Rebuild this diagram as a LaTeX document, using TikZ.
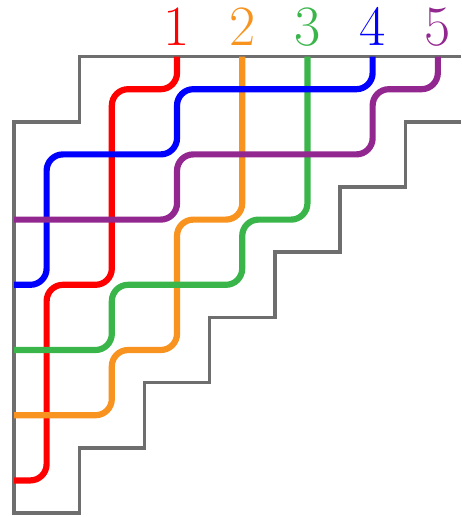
\documentclass[tikz,border=0pt]{standalone}
\usepackage{xcolor}
\usepackage{tikz}
\usetikzlibrary{positioning}
\definecolor{PipeRed}{HTML}{FF0000}
\definecolor{PipeOrange}{HTML}{F7931E}
\definecolor{PipeGreen}{HTML}{39B54A}
\definecolor{PipeBlue}{HTML}{0000FF}
\definecolor{PipePurple}{HTML}{92278F}
\definecolor{FrameGray}{HTML}{6E6E6E}
\begin{document}
\begin{tikzpicture}[x=1cm,y=1cm,
    frame/.style={draw=FrameGray, line width=1.5pt},
    pipe/.style={line width=2.7pt, rounded corners=0.25cm},
    lbl/.style={font=\fontsize{24}{28}\selectfont, inner sep=0pt}]
  \useasboundingbox (-0.215,-0.061) rectangle (6.856,7.868);
  % staircase frame
  \draw[frame] (6.856,7) -- (1,7) -- (1,6) -- (0,6) -- (0,0) -- (1,0)
    -- (1,1) -- (2,1) -- (2,2) -- (3,2) -- (3,3) -- (4,3) -- (4,4)
    -- (5,4) -- (5,5) -- (6,5) -- (6,6) -- (6.856,6);
  % pipes
  \draw[pipe, PipeRed] (2.5,7) -- (2.5,6.5) -- (1.5,6.5) -- (1.5,3.5)
    -- (0.5,3.5) -- (0.5,0.5) -- (0,0.5);
  \draw[pipe, PipeOrange] (3.5,7) -- (3.5,4.5) -- (2.5,4.5) -- (2.5,2.5)
    -- (1.5,2.5) -- (1.5,1.5) -- (0,1.5);
  \draw[pipe, PipeGreen] (4.5,7) -- (4.5,4.5) -- (3.5,4.5) -- (3.5,3.5)
    -- (1.5,3.5) -- (1.5,2.5) -- (0,2.5);
  \draw[pipe, PipeBlue] (5.5,7) -- (5.5,6.5) -- (2.5,6.5) -- (2.5,5.5)
    -- (0.5,5.5) -- (0.5,3.5) -- (0,3.5);
  \draw[pipe, PipePurple] (6.5,7) -- (6.5,6.5) -- (5.5,6.5) -- (5.5,5.5)
    -- (2.5,5.5) -- (2.5,4.5) -- (0,4.5);
  % labels
  \foreach \i/\c in {1/PipeRed,2/PipeOrange,3/PipeGreen,4/PipeBlue,5/PipePurple}
    \node[lbl, text=\c] (top\i) at (\i+1.5,7.45) {$\i$};
\end{tikzpicture}
\end{document}
